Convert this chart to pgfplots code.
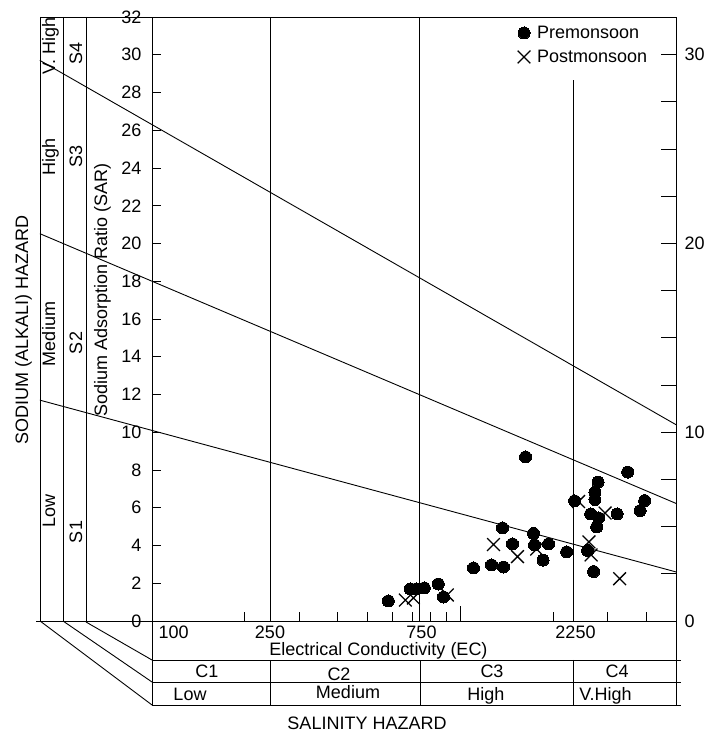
\documentclass[border=0pt]{standalone}
\usepackage{fontspec}
\setmainfont{Liberation Sans}
\usepackage{pgfplots}
\pgfplotsset{compat=1.18}
\newcommand{\fs}{\fontsize{18}{21}\selectfont}
\begin{document}
\begin{tikzpicture}[x=1pt,y=1pt,line width=0.9pt,font=\fs]
\useasboundingbox (0,0) rectangle (709,733);
% ---- left hazard columns
\draw (40,716) -- (152,716);
\draw (36,112) -- (152,112);
\foreach \xx in {40,63,86} \draw (\xx,716) -- (\xx,112);
\draw (40,112) -- (152,28);
\draw (63,112) -- (152,51);
\draw (86,111) -- (152,73);
% ---- bottom table
\draw (152,112) -- (152,28);
\draw (676,112) -- (676,28);
\foreach \yy in {73,51,28} \draw (152,\yy) -- (681,\yy);
\foreach \xx in {270.7,420,573} \draw (\xx,73) -- (\xx,28);

\begin{axis}[
  at={(152pt,112pt)}, anchor=south west,
  scale only axis, width=524pt, height=604pt,
  xmode=log, xmin=100, xmax=5000, ymin=0, ymax=32,
  clip=false,
  axis line style={line width=0.9pt},
  tick style={black, line width=0.9pt},
  tick align=inside,
  major tick length=9pt,
  ytick={0,2,...,32}, ytick pos=left,
  xtick={200,300,400,500,600,700,800,900,2000,3000,4000},
  xticklabels={,,}, xtick pos=bottom,
  extra x ticks={1000}, extra x tick labels={,}, extra x tick style={major tick length=15pt},
  /pgf/number format/assume math mode=true,
  yticklabel style={font=\fs, xshift=-7pt},
  legend style={draw=none, fill=none, at={(0.6966,0.9851)}, anchor=north west,
    inner sep=0pt, outer sep=0pt, row sep=10pt, font=\fs, nodes={inner sep=0pt}},
  legend cell align=left,
  legend image code/.code={\draw[#1] plot coordinates {(0pt,0pt)}; \path[draw=none,fill=none] (-7pt,-7pt) rectangle (13pt,7pt);},
]
% sodium hazard boundaries
\addplot[forget plot, black, line width=0.9pt] coordinates {(43.3,11.70) (5000,2.60)};
\addplot[forget plot, black, line width=0.9pt] coordinates {(43.3,20.52) (5000,6.23)};
\addplot[forget plot, black, line width=0.9pt] coordinates {(43.3,29.70) (5000,10.40)};
% salinity class boundaries
\addplot[forget plot, black, line width=0.9pt] coordinates {(243,0) (243,32)};
\addplot[forget plot, black, line width=0.9pt] coordinates {(738,0) (738,32)};
\addplot[forget plot, black, line width=0.9pt] coordinates {(2322,0) (2322,28.66)};
% data
\addplot[only marks, mark=*, mark size=6pt, black, mark options={line width=0pt}] coordinates {
(584,1.06) (688,1.70) (720,1.70) (764,1.75) (848,1.96) (881,1.27)
(1102,2.81) (1261,2.97) (1379,2.86) (1369,4.93) (1475,4.08) (1626,8.69)
(1726,4.64) (1739,4.03) (1931,4.08) (1853,3.23) (2210,3.66) (2345,6.36)
(2585,3.74) (2703,2.62) (2644,5.67) (2806,5.46) (2765,4.98) (2729,6.82)
(2729,6.44) (2795,7.36) (3222,5.67) (3485,7.89) (3958,6.38) (3827,5.85)
};
\addlegendentry{Premonsoon}
\addplot[only marks, mark=x, mark size=9pt, black, mark options={line width=1.3pt}] coordinates {
(663,1.11) (704,1.22) (907,1.38) (1280,4.05) (1531,3.41) (1766,3.81)
(2416,6.33) (2610,4.19) (2653,3.50) (2945,5.72) (3283,2.24)
};
\addlegendentry{Postmonsoon}
\end{axis}

\begin{axis}[
  at={(152pt,112pt)}, anchor=south west,
  scale only axis, width=524pt, height=604pt,
  xmode=log, xmin=100, xmax=5000, ymin=0, ymax=32,
  axis x line=none, axis y line*=right,
  axis line style={line width=0.9pt},
  tick style={black, line width=0.9pt},
  tick align=inside,
  ytick={0,10,20,30},
  minor ytick={2.5,5,7.5,12.5,15,17.5,22.5,25,27.5},
  major tick length=15pt, minor tick length=15pt,
  /pgf/number format/assume math mode=true,
  yticklabel style={font=\fs, xshift=5pt},
]
\addplot[draw=none, forget plot] coordinates {(100,0)};
\end{axis}

% ---- texts
\node[anchor=base west] at (155,94) {100};
\node[anchor=base] at (270,94) {250};
\node[anchor=base] at (421.5,94) {750};
\node[anchor=base] at (575.5,94) {2250};
\node[anchor=base] at (378.5,77) {Electrical Conductivity (EC)};
\node[anchor=base] at (207,55) {C1};
\node[anchor=base] at (339,52) {C2};
\node[anchor=base] at (492,55) {C3};
\node[anchor=base] at (617,55) {C4};
\node[anchor=base] at (190,32) {Low};
\node[anchor=base] at (348,34) {Medium};
\node[anchor=base] at (486,32) {High};
\node[anchor=base] at (605.5,32) {V.High};
\node[anchor=base, inner sep=0pt] at (367,3.5) {SALINITY HAZARD};
\node[anchor=base, rotate=90] at (28,403) {SODIUM (ALKALI) HAZARD};
\node[anchor=base, rotate=90] at (55,687) {V. High};
\node[anchor=base, rotate=90] at (55,576) {High};
\node[anchor=base, rotate=90] at (55,399) {Medium};
\node[anchor=base, rotate=90] at (55,222) {Low};
\node[anchor=base, rotate=90] at (82,679) {S4};
\node[anchor=base, rotate=90] at (82,576) {S3};
\node[anchor=base, rotate=90] at (82,390) {S2};
\node[anchor=base, rotate=90] at (82,201) {S1};
\node[anchor=base, rotate=90] at (107,443) {Sodium Adsorption Ratio (SAR)};
\end{tikzpicture}
\end{document}
